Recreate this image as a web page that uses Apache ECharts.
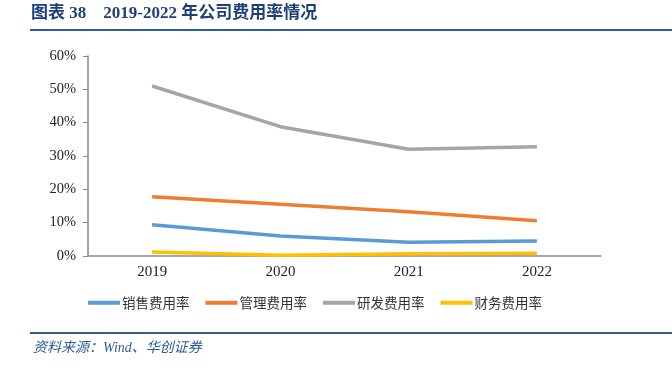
<!DOCTYPE html>
<html><head><meta charset="utf-8">
<script src="https://cdn.jsdelivr.net/npm/echarts@6/dist/echarts.min.js"></script>
<style>html,body{margin:0;padding:0;background:#fff}#c{width:672px;height:370px}</style>
</head><body><div id="c"></div>
<script>
const categories = ['2019', '2020', '2021', '2022'];
const seriesNames = ['销售费用率', '管理费用率', '研发费用率', '财务费用率'];
const sales = [9.4, 6.0, 4.1, 4.5];
const admin = [17.8, 15.5, 13.3, 10.6];
const rnd = [51.0, 38.8, 32.0, 32.8];
const fin = [1.2, 0.2, 0.7, 0.8];
const yTicks = [0, 10, 20, 30, 40, 50, 60];
const colors = ['#5B9BD5', '#ED7D31', '#A5A5A5', '#FFC000'];
const titleText = '图表 38    2019-2022 年公司费用率情况';
const sourceText = '资料来源：Wind、华创证券';

const chart = echarts.init(document.getElementById('c'));
const dataSets = [sales, admin, rnd, fin];
chart.setOption({
  animation: false,
  color: colors,
  grid: {left: 88, right: 71, top: 56, bottom: 114},
  xAxis: {
    type: 'category', data: categories, boundaryGap: true,
    axisLine: {lineStyle: {color: '#898989', width: 1.5}},
    axisTick: {show: false},
    axisLabel: {color: '#222', fontFamily: 'Liberation Serif', fontSize: 15, margin: 9}
  },
  yAxis: {
    type: 'value', min: yTicks[0], max: yTicks[yTicks.length - 1], interval: 10,
    splitLine: {show: false},
    axisLine: {show: true, lineStyle: {color: '#898989', width: 1.5}},
    axisTick: {show: true, length: 5, lineStyle: {color: '#898989'}},
    axisLabel: {color: '#222', fontFamily: 'Liberation Serif', fontSize: 14.5, margin: 12, formatter: v => v + '%'}
  },
  legend: {
    top: 291, left: 83, itemGap: 16, itemWidth: 32, itemHeight: 4,
    icon: 'rect',
    textStyle: {color: '#333', fontFamily: 'Noto Sans CJK SC', fontSize: 13.5, padding: [0,0,0,-3]},
    data: seriesNames
  },
  series: dataSets.map((d, i) => ({
    name: seriesNames[i], type: 'line', data: d, symbol: 'none',
    lineStyle: {width: 3.5, color: colors[i]}
  })),
  graphic: [
    {type: 'text', left: 31, top: 5, style: {text: titleText, fill: '#1F3F7A', font: 'bold 17px "Liberation Serif", "Noto Sans CJK SC"'}},
    {type: 'rect', shape: {x: 30, y: 29, width: 642, height: 2}, style: {fill: '#2E5C99'}},
    {type: 'rect', shape: {x: 30, y: 332, width: 642, height: 2}, style: {fill: '#2E5C99'}},
    {type: 'text', left: 33, top: 341, style: {text: sourceText, fill: '#2E5C99', font: 'italic 14px "Liberation Serif", "Noto Sans CJK SC"'}}
  ]
});
</script></body></html>
